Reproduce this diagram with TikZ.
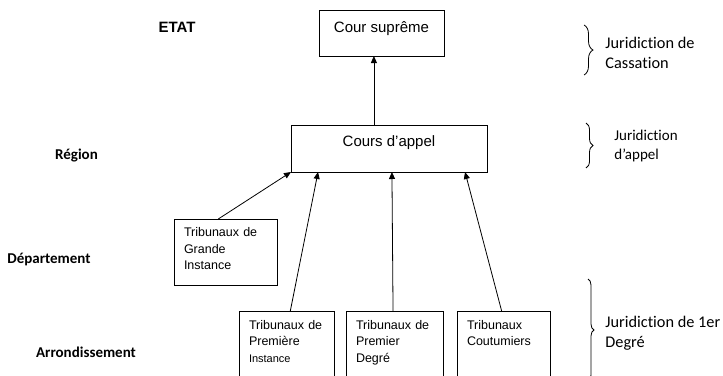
\documentclass[tikz,border=0pt]{standalone}
\usepackage{fontspec}
\setmainfont{Liberation Sans}
\newfontfamily\calibri[Ligatures=NoCommon]{Carlito}
\usetikzlibrary{arrows.meta,calc,decorations.pathreplacing}

\begin{document}
\begin{tikzpicture}[
     x=1pt, y=-1pt,
     line width=0.8pt,
CourtBox/.style={draw, inner xsep=0pt, inner ysep=4pt, outer sep=0pt,
                 font=\fontsize{15}{18}\selectfont, anchor=north west},
LowBox/.style={draw, inner xsep=10pt, inner ysep=4pt, outer sep=0pt, align=left,
               text width=#1, font=\fontsize{12.5}{16.5}\selectfont, anchor=north west},
LevelLabel/.style={font=\calibri\bfseries\fontsize{15}{18}\selectfont, inner sep=0pt},
JurLabel/.style={font=\calibri\fontsize{16.3}{20}\selectfont, inner sep=0pt,
                 align=left, anchor=west},
JurBrace/.style={decorate, decoration={brace, amplitude=#1}},
  ]
\useasboundingbox (0,0) rectangle (723,375);
\clip (0,0) rectangle (723,375);
% courts
\node [CourtBox, minimum width=125pt, text height=18.4pt, text depth=19.6pt] (supreme) at (319,10) {Cour suprême};
\node [CourtBox, minimum width=196pt, text height=17pt, text depth=22pt] (appel) at (291,125) {Cours d’appel};
\node [LowBox=83pt, text height=13.5pt, text depth=44.5pt] (tgi) at (174,219) {Tribunaux de\\Grande\\Instance};
\node [LowBox=75pt, text height=14pt, text depth=60pt] (tpi) at (239,311) {Tribunaux de\\Première\\{\fontsize{11}{16.5}\selectfont Instance}};
\node [LowBox=77pt, text height=14pt, text depth=60pt] (tpd) at (346,311) {Tribunaux de\\Premier\\Degré};
\node [LowBox=73pt, text height=14pt, text depth=60pt] (tcout) at (457,311) {Tribunaux\\Coutumiers};
% levels
\node [font=\bfseries\fontsize{15}{18}\selectfont, inner sep=0pt] (etat) at (177,27) {ETAT};
\node [LevelLabel] (region) at (76.5,156) {Région};
\node [LevelLabel] (dept) at (49,259) {Département};
\node [LevelLabel] (arrond) at (86,352) {Arrondissement};
% jurisdictions
\node [JurLabel] (cassation) at (605,52.5) {Juridiction de\\Cassation};
\node [JurLabel, font=\calibri\fontsize{15}{19}\selectfont] (jurappel) at (614,145.5) {Juridiction\\d’appel};
\node [JurLabel] (premier) at (605,333.5) {Juridiction de 1er\\Degré};
\draw [JurBrace=9pt] (584,25) -- (584,75);
\draw [JurBrace=7pt] (586,123) -- (586,168);
\draw [JurBrace=6pt] (588,279) -- (588,381);
\coordinate (up) at ($(appel.north west)!0.423!(appel.north east)$);
\begin{scope}[-{Triangle[length=7pt, width=6pt]}]
  \draw ($(tgi.north west)!0.43!(tgi.north east)$) -- (appel.south west);
  \draw ($(tpi.north west)!0.54!(tpi.north east)$) -- ($(appel.south west)!0.138!(appel.south east)$);
  \draw ($(tpd.north west)!0.485!(tpd.north east)$) -- ($(appel.south west)!0.515!(appel.south east)$);
  \draw ($(tcout.north west)!0.48!(tcout.north east)$) -- ($(appel.south west)!0.888!(appel.south east)$);
  \draw (up) -- (up |- supreme.south);
\end{scope}
\end{tikzpicture}
\end{document}
